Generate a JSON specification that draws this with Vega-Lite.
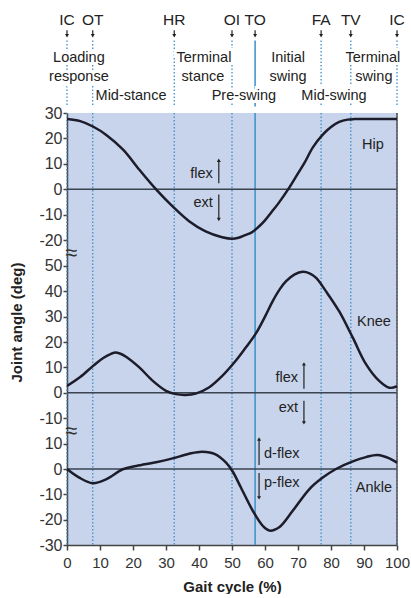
{
  "$schema": "https://vega.github.io/schema/vega-lite/v6.json",
  "padding": {"left": 8, "top": 0, "right": 0, "bottom": 0},
  "background": "white",
  "spacing": 0,
  "bounds": "flush",
  "config": {
    "font": "Liberation Sans, Arial, sans-serif",
    "view": {"stroke": null, "fill": "#c8d4eb"},
    "axis": {
      "labelFont": "Liberation Sans, Arial, sans-serif",
      "labelFontSize": 16,
      "labelColor": "#333333",
      "labelOverlap": false,
      "labelFlush": false,
      "domainColor": "#444444",
      "domainWidth": 1.5,
      "tickColor": "#444444",
      "tickWidth": 1.5,
      "tickSize": 4,
      "labelPadding": 1,
      "grid": false,
      "titleFont": "Liberation Sans, Arial, sans-serif",
      "titleFontSize": 15,
      "titleFontWeight": "bold",
      "titleColor": "#222222"
    },
    "axisX": {"labelFontSize": 15},
    "text": {"font": "Liberation Sans, Arial, sans-serif", "fontSize": 14.5, "color": "#222222"}
  },
  "datasets": {
    "curves": [
      {"joint": "Hip", "pct": 0, "angle": 27.6}, {"joint": "Hip", "pct": 4, "angle": 26.8}, {"joint": "Hip", "pct": 8, "angle": 24.6},
      {"joint": "Hip", "pct": 12, "angle": 21.3}, {"joint": "Hip", "pct": 17, "angle": 15.6}, {"joint": "Hip", "pct": 22, "angle": 7.6},
      {"joint": "Hip", "pct": 27, "angle": 0}, {"joint": "Hip", "pct": 32, "angle": -6.7}, {"joint": "Hip", "pct": 37, "angle": -12.5},
      {"joint": "Hip", "pct": 42, "angle": -16.5}, {"joint": "Hip", "pct": 47, "angle": -18.8}, {"joint": "Hip", "pct": 50, "angle": -19.4},
      {"joint": "Hip", "pct": 52, "angle": -19.0}, {"joint": "Hip", "pct": 54, "angle": -18.0}, {"joint": "Hip", "pct": 56, "angle": -16.9},
      {"joint": "Hip", "pct": 58, "angle": -14.8}, {"joint": "Hip", "pct": 60, "angle": -12.2}, {"joint": "Hip", "pct": 62, "angle": -8.9},
      {"joint": "Hip", "pct": 64, "angle": -5.6}, {"joint": "Hip", "pct": 67, "angle": 0}, {"joint": "Hip", "pct": 70, "angle": 6.3},
      {"joint": "Hip", "pct": 72, "angle": 10.5}, {"joint": "Hip", "pct": 74.5, "angle": 16.5}, {"joint": "Hip", "pct": 77.5, "angle": 21.5},
      {"joint": "Hip", "pct": 80, "angle": 24.5}, {"joint": "Hip", "pct": 82.5, "angle": 26.5}, {"joint": "Hip", "pct": 85, "angle": 27.4},
      {"joint": "Hip", "pct": 87, "angle": 27.6}, {"joint": "Hip", "pct": 91, "angle": 27.6}, {"joint": "Hip", "pct": 95, "angle": 27.6},
      {"joint": "Hip", "pct": 100, "angle": 27.6},
      {"joint": "Knee", "pct": 0, "angle": 2.7}, {"joint": "Knee", "pct": 4, "angle": 6.2}, {"joint": "Knee", "pct": 8, "angle": 10.7},
      {"joint": "Knee", "pct": 11, "angle": 13.7}, {"joint": "Knee", "pct": 14.3, "angle": 15.8}, {"joint": "Knee", "pct": 16, "angle": 15.5},
      {"joint": "Knee", "pct": 18, "angle": 14.1}, {"joint": "Knee", "pct": 22, "angle": 9.9}, {"joint": "Knee", "pct": 26, "angle": 4.7},
      {"joint": "Knee", "pct": 30, "angle": 0.8}, {"joint": "Knee", "pct": 33, "angle": -0.5}, {"joint": "Knee", "pct": 36, "angle": -0.8},
      {"joint": "Knee", "pct": 39, "angle": -0.3}, {"joint": "Knee", "pct": 43, "angle": 2.1}, {"joint": "Knee", "pct": 47, "angle": 6.6},
      {"joint": "Knee", "pct": 51, "angle": 12.4}, {"joint": "Knee", "pct": 54, "angle": 17.5}, {"joint": "Knee", "pct": 57.3, "angle": 23.5},
      {"joint": "Knee", "pct": 60, "angle": 30}, {"joint": "Knee", "pct": 62.3, "angle": 36}, {"joint": "Knee", "pct": 64.5, "angle": 40.8},
      {"joint": "Knee", "pct": 66.4, "angle": 43.9}, {"joint": "Knee", "pct": 69, "angle": 46.6}, {"joint": "Knee", "pct": 71.4, "angle": 47.6},
      {"joint": "Knee", "pct": 73.5, "angle": 47}, {"joint": "Knee", "pct": 75.5, "angle": 45.2}, {"joint": "Knee", "pct": 78.5, "angle": 39.9},
      {"joint": "Knee", "pct": 82.5, "angle": 32}, {"joint": "Knee", "pct": 86.6, "angle": 21.7}, {"joint": "Knee", "pct": 90.6, "angle": 11.3},
      {"joint": "Knee", "pct": 94.6, "angle": 4.7}, {"joint": "Knee", "pct": 97.7, "angle": 2.0}, {"joint": "Knee", "pct": 100, "angle": 2.6},
      {"joint": "Ankle", "pct": 0, "angle": 0}, {"joint": "Ankle", "pct": 3.7, "angle": -3.4}, {"joint": "Ankle", "pct": 7.8, "angle": -5.6},
      {"joint": "Ankle", "pct": 11.8, "angle": -4.1}, {"joint": "Ankle", "pct": 16.9, "angle": -0.1}, {"joint": "Ankle", "pct": 21, "angle": 1.2},
      {"joint": "Ankle", "pct": 27, "angle": 2.7}, {"joint": "Ankle", "pct": 32, "angle": 4.2}, {"joint": "Ankle", "pct": 37, "angle": 6.0},
      {"joint": "Ankle", "pct": 41, "angle": 6.8}, {"joint": "Ankle", "pct": 45, "angle": 5.8}, {"joint": "Ankle", "pct": 48.2, "angle": 2.5},
      {"joint": "Ankle", "pct": 50.2, "angle": -1.0}, {"joint": "Ankle", "pct": 52.7, "angle": -7.3}, {"joint": "Ankle", "pct": 56.3, "angle": -16.5},
      {"joint": "Ankle", "pct": 59.3, "angle": -22.4}, {"joint": "Ankle", "pct": 61.3, "angle": -24.3}, {"joint": "Ankle", "pct": 64.3, "angle": -23},
      {"joint": "Ankle", "pct": 68.4, "angle": -16.5}, {"joint": "Ankle", "pct": 73.4, "angle": -8}, {"joint": "Ankle", "pct": 77.5, "angle": -3.4},
      {"joint": "Ankle", "pct": 81.5, "angle": 0}, {"joint": "Ankle", "pct": 86.6, "angle": 3}, {"joint": "Ankle", "pct": 90.6, "angle": 4.7},
      {"joint": "Ankle", "pct": 94.1, "angle": 5.5}, {"joint": "Ankle", "pct": 97.7, "angle": 4.2}, {"joint": "Ankle", "pct": 100, "angle": 2.5}
    ],
    "events": [
      {"event": "IC", "pct": 0, "kind": "dotted"},
      {"event": "OT", "pct": 7.8, "kind": "dotted"},
      {"event": "HR", "pct": 32.5, "kind": "dotted"},
      {"event": "OI", "pct": 50, "kind": "dotted"},
      {"event": "TO", "pct": 57, "kind": "solid"},
      {"event": "FA", "pct": 77, "kind": "dotted"},
      {"event": "TV", "pct": 86, "kind": "dotted"},
      {"event": "IC", "pct": 100, "kind": "dotted"}
    ],
    "phases": [
      {"text": "Loading", "pct": 3.6, "line": 3.1},
      {"text": "response", "pct": 3.6, "line": 4.1},
      {"text": "Terminal", "pct": 41.5, "line": 3.1},
      {"text": "stance", "pct": 41.2, "line": 4.1},
      {"text": "Initial", "pct": 67, "line": 3.1},
      {"text": "swing", "pct": 67, "line": 4.1},
      {"text": "Terminal", "pct": 92.7, "line": 3.1},
      {"text": "swing", "pct": 93, "line": 4.1},
      {"text": "Mid-stance", "pct": 19.4, "line": 5.1},
      {"text": "Pre-swing", "pct": 53.6, "line": 5.1},
      {"text": "Mid-swing", "pct": 80.9, "line": 5.1}
    ],
    "labels": [
      {"joint": "Hip", "text": "Hip", "pct": 92.7, "angle": 17.6},
      {"joint": "Hip", "text": "flex", "pct": 44.2, "angle": 5.9},
      {"joint": "Hip", "text": "ext", "pct": 44.2, "angle": -5.5},
      {"joint": "Knee", "text": "Knee", "pct": 93, "angle": 27.8},
      {"joint": "Knee", "text": "flex", "pct": 70, "angle": 5.9},
      {"joint": "Knee", "text": "ext", "pct": 70, "angle": -5.9},
      {"joint": "Ankle", "text": "Ankle", "pct": 93, "angle": -7.5},
      {"joint": "Ankle", "text": "d-flex", "pct": 59.7, "angle": 5.9},
      {"joint": "Ankle", "text": "p-flex", "pct": 59.7, "angle": -5.5}
    ],
    "arrows": [
      {"joint": "Hip", "pct": 46, "from": 2.4, "to": 11.4},
      {"joint": "Hip", "pct": 46, "from": -2, "to": -11.8},
      {"joint": "Knee", "pct": 71.8, "from": 1.6, "to": 11.4},
      {"joint": "Knee", "pct": 71.8, "from": -3.1, "to": -11.8},
      {"joint": "Ankle", "pct": 58.2, "from": 1.6, "to": 11.8},
      {"joint": "Ankle", "pct": 58.2, "from": -1.6, "to": -11.4}
    ]
  },
  "vconcat": [
    {
      "width": 330,
      "height": 113,
      "view": {"fill": null, "stroke": null},
      "layer": [
        {
          "data": {"name": "events"},
          "transform": [{"filter": "datum.kind == 'dotted'"}],
          "mark": {"type": "rule", "color": "#3b8fc9", "strokeWidth": 1.3, "strokeDash": [1.5, 2]},
          "encoding": {
            "x": {"field": "pct", "type": "quantitative", "scale": {"domain": [0, 100]}, "axis": null},
            "y": {"datum": 2.15, "type": "quantitative", "scale": {"domain": [0, 5.65], "reverse": true}, "axis": null},
            "y2": {"datum": 5.65}
          }
        },
        {
          "data": {"name": "events"},
          "transform": [{"filter": "datum.kind == 'solid'"}],
          "mark": {"type": "rule", "color": "#3b8fc9", "strokeWidth": 1.5},
          "encoding": {
            "x": {"field": "pct", "type": "quantitative", "axis": null},
            "y": {"datum": 2.15, "type": "quantitative", "axis": null},
            "y2": {"datum": 5.65}
          }
        },
        {
          "data": {"name": "events"},
          "mark": {"type": "rule", "color": "#222222", "strokeWidth": 1.2},
          "encoding": {
            "x": {"field": "pct", "type": "quantitative", "axis": null},
            "y": {"datum": 1.6, "type": "quantitative", "axis": null},
            "y2": {"datum": 1.85}
          }
        },
        {
          "data": {"name": "events"},
          "mark": {"type": "point", "shape": "triangle-down", "filled": true, "color": "#222222", "size": 16, "opacity": 1},
          "encoding": {
            "x": {"field": "pct", "type": "quantitative", "axis": null},
            "y": {"datum": 1.9, "type": "quantitative", "axis": null}
          }
        },
        {
          "data": {"name": "events"},
          "mark": {"type": "text", "fontSize": 15.5, "baseline": "middle", "align": "center"},
          "encoding": {
            "x": {"field": "pct", "type": "quantitative", "axis": null},
            "y": {"datum": 1.05, "type": "quantitative", "axis": null},
            "text": {"field": "event"}
          }
        },
        {
          "data": {"name": "phases"},
          "mark": {"type": "text", "baseline": "middle", "align": "center", "color": "white", "stroke": "white", "strokeWidth": 6},
          "encoding": {
            "x": {"field": "pct", "type": "quantitative", "axis": null},
            "y": {"field": "line", "type": "quantitative", "axis": null},
            "text": {"field": "text"}
          }
        },
        {
          "data": {"name": "phases"},
          "mark": {"type": "text", "baseline": "middle", "align": "center"},
          "encoding": {
            "x": {"field": "pct", "type": "quantitative", "axis": null},
            "y": {"field": "line", "type": "quantitative", "axis": null},
            "text": {"field": "text"}
          }
        }
      ]
    },
    {
      "width": 330,
      "height": 140,
      "layer": [
        {
          "data": {"name": "events"},
          "transform": [{"filter": "datum.kind == 'dotted'"}],
          "mark": {"type": "rule", "color": "#3b8fc9", "strokeWidth": 1.3, "strokeDash": [1.5, 2]},
          "encoding": {"x": {"field": "pct", "type": "quantitative", "scale": {"domain": [0, 100]}, "axis": null}}
        },
        {
          "data": {"name": "events"},
          "transform": [{"filter": "datum.kind == 'solid'"}],
          "mark": {"type": "rule", "color": "#3b8fc9", "strokeWidth": 1.5},
          "encoding": {"x": {"field": "pct", "type": "quantitative", "axis": null}}
        },
        {
          "data": {"values": [{}]},
          "mark": {"type": "rule", "color": "#3a4350", "strokeWidth": 1.5},
          "encoding": {"y": {"datum": 0, "type": "quantitative", "scale": {"domain": [-25, 30], "nice": false}, "axis": {"values": [-20, -10, 0, 10, 20, 30], "title": null, "labelExpr": "'' + datum.value"}}}
        },
        {
          "data": {"values": [{}]},
          "mark": {"type": "rule", "color": "#555555", "strokeWidth": 1.5},
          "encoding": {"x": {"datum": 100, "type": "quantitative", "axis": null}}
        },
        {
          "data": {"name": "curves"},
          "transform": [{"filter": "datum.joint == 'Hip'"}],
          "mark": {"type": "line", "color": "#1c1c2a", "strokeWidth": 2.5, "interpolate": "catmull-rom"},
          "encoding": {
            "x": {"field": "pct", "type": "quantitative", "axis": null},
            "y": {"field": "angle", "type": "quantitative", "axis": {"values": [-20, -10, 0, 10, 20, 30], "title": null, "labelExpr": "'' + datum.value"}}
          }
        },
        {
          "data": {"name": "arrows"},
          "transform": [{"filter": "datum.joint == 'Hip'"}],
          "mark": {"type": "rule", "color": "#222222", "strokeWidth": 1.2},
          "encoding": {
            "x": {"field": "pct", "type": "quantitative", "axis": null},
            "y": {"field": "from", "type": "quantitative", "axis": {"values": [-20, -10, 0, 10, 20, 30], "title": null, "labelExpr": "'' + datum.value"}},
            "y2": {"field": "to"}
          }
        },
        {
          "data": {"name": "arrows"},
          "transform": [{"filter": "datum.joint == 'Hip'"}],
          "mark": {"type": "point", "filled": true, "color": "#222222", "size": 16, "opacity": 1},
          "encoding": {
            "x": {"field": "pct", "type": "quantitative", "axis": null},
            "y": {"field": "to", "type": "quantitative", "axis": {"values": [-20, -10, 0, 10, 20, 30], "title": null, "labelExpr": "'' + datum.value"}},
            "shape": {"condition": {"test": "datum.to > datum.from", "value": "triangle-up"}, "value": "triangle-down"}
          }
        },
        {
          "data": {"name": "labels"},
          "transform": [{"filter": "datum.joint == 'Hip' && (datum.text == 'flex' || datum.text == 'ext')"}],
          "mark": {"type": "text", "align": "right", "baseline": "middle"},
          "encoding": {
            "x": {"field": "pct", "type": "quantitative", "axis": null},
            "y": {"field": "angle", "type": "quantitative", "axis": {"values": [-20, -10, 0, 10, 20, 30], "title": null, "labelExpr": "'' + datum.value"}},
            "text": {"field": "text"}
          }
        },
        {
          "data": {"name": "labels"},
          "transform": [{"filter": "datum.joint == 'Hip' && datum.text == 'Hip'"}],
          "mark": {"type": "text", "align": "center", "baseline": "middle"},
          "encoding": {
            "x": {"field": "pct", "type": "quantitative", "axis": null},
            "y": {"field": "angle", "type": "quantitative", "axis": {"values": [-20, -10, 0, 10, 20, 30], "title": null, "labelExpr": "'' + datum.value"}},
            "text": {"field": "text"}
          }
        }
      ]
    },
    {
      "width": 330,
      "height": 178,
      "layer": [
        {
          "data": {"name": "events"},
          "transform": [{"filter": "datum.kind == 'dotted'"}],
          "mark": {"type": "rule", "color": "#3b8fc9", "strokeWidth": 1.3, "strokeDash": [1.5, 2]},
          "encoding": {"x": {"field": "pct", "type": "quantitative", "scale": {"domain": [0, 100]}, "axis": null}}
        },
        {
          "data": {"name": "events"},
          "transform": [{"filter": "datum.kind == 'solid'"}],
          "mark": {"type": "rule", "color": "#3b8fc9", "strokeWidth": 1.5},
          "encoding": {"x": {"field": "pct", "type": "quantitative", "axis": null}}
        },
        {
          "data": {"values": [{}]},
          "mark": {"type": "rule", "color": "#3a4350", "strokeWidth": 1.5},
          "encoding": {"y": {"datum": 0, "type": "quantitative", "scale": {"domain": [-15, 55], "nice": false}, "axis": {"values": [-10, 0, 10, 20, 30, 40, 50], "title": "Joint angle (deg)", "labelExpr": "'' + datum.value", "titleAngle": -90, "titleAlign": "center", "titleBaseline": "middle", "titleX": -51, "titleY": 69}}}
        },
        {
          "data": {"values": [{}]},
          "mark": {"type": "rule", "color": "#555555", "strokeWidth": 1.5},
          "encoding": {"x": {"datum": 100, "type": "quantitative", "axis": null}}
        },
        {
          "data": {"name": "curves"},
          "transform": [{"filter": "datum.joint == 'Knee'"}],
          "mark": {"type": "line", "color": "#1c1c2a", "strokeWidth": 2.5, "interpolate": "catmull-rom"},
          "encoding": {
            "x": {"field": "pct", "type": "quantitative", "axis": null},
            "y": {"field": "angle", "type": "quantitative", "axis": {"values": [-10, 0, 10, 20, 30, 40, 50], "title": "Joint angle (deg)", "labelExpr": "'' + datum.value", "titleAngle": -90, "titleAlign": "center", "titleBaseline": "middle", "titleX": -51, "titleY": 69}}
          }
        },
        {
          "data": {"name": "arrows"},
          "transform": [{"filter": "datum.joint == 'Knee'"}],
          "mark": {"type": "rule", "color": "#222222", "strokeWidth": 1.2},
          "encoding": {
            "x": {"field": "pct", "type": "quantitative", "axis": null},
            "y": {"field": "from", "type": "quantitative", "axis": {"values": [-10, 0, 10, 20, 30, 40, 50], "title": "Joint angle (deg)", "labelExpr": "'' + datum.value", "titleAngle": -90, "titleAlign": "center", "titleBaseline": "middle", "titleX": -51, "titleY": 69}},
            "y2": {"field": "to"}
          }
        },
        {
          "data": {"name": "arrows"},
          "transform": [{"filter": "datum.joint == 'Knee'"}],
          "mark": {"type": "point", "filled": true, "color": "#222222", "size": 16, "opacity": 1},
          "encoding": {
            "x": {"field": "pct", "type": "quantitative", "axis": null},
            "y": {"field": "to", "type": "quantitative", "axis": {"values": [-10, 0, 10, 20, 30, 40, 50], "title": "Joint angle (deg)", "labelExpr": "'' + datum.value", "titleAngle": -90, "titleAlign": "center", "titleBaseline": "middle", "titleX": -51, "titleY": 69}},
            "shape": {"condition": {"test": "datum.to > datum.from", "value": "triangle-up"}, "value": "triangle-down"}
          }
        },
        {
          "data": {"name": "labels"},
          "transform": [{"filter": "datum.joint == 'Knee' && (datum.text == 'flex' || datum.text == 'ext')"}],
          "mark": {"type": "text", "align": "right", "baseline": "middle"},
          "encoding": {
            "x": {"field": "pct", "type": "quantitative", "axis": null},
            "y": {"field": "angle", "type": "quantitative", "axis": {"values": [-10, 0, 10, 20, 30, 40, 50], "title": "Joint angle (deg)", "labelExpr": "'' + datum.value", "titleAngle": -90, "titleAlign": "center", "titleBaseline": "middle", "titleX": -51, "titleY": 69}},
            "text": {"field": "text"}
          }
        },
        {
          "data": {"name": "labels"},
          "transform": [{"filter": "datum.joint == 'Knee' && datum.text == 'Knee'"}],
          "mark": {"type": "text", "align": "center", "baseline": "middle"},
          "encoding": {
            "x": {"field": "pct", "type": "quantitative", "axis": null},
            "y": {"field": "angle", "type": "quantitative", "axis": {"values": [-10, 0, 10, 20, 30, 40, 50], "title": "Joint angle (deg)", "labelExpr": "'' + datum.value", "titleAngle": -90, "titleAlign": "center", "titleBaseline": "middle", "titleX": -51, "titleY": 69}},
            "text": {"field": "text"}
          }
        },
        {
          "data": {"values": [{}]},
          "mark": {"type": "text", "text": "≈", "fontSize": 22, "align": "center", "baseline": "middle", "dx": 4, "color": "#333333"},
          "encoding": {
            "x": {"datum": 0, "type": "quantitative", "axis": null},
            "y": {"datum": 55, "type": "quantitative", "axis": {"values": [-10, 0, 10, 20, 30, 40, 50], "title": "Joint angle (deg)", "labelExpr": "'' + datum.value", "titleAngle": -90, "titleAlign": "center", "titleBaseline": "middle", "titleX": -51, "titleY": 69}}
          }
        }
      ]
    },
    {
      "width": 330,
      "height": 114,
      "layer": [
        {
          "data": {"name": "events"},
          "transform": [{"filter": "datum.kind == 'dotted'"}],
          "mark": {"type": "rule", "color": "#3b8fc9", "strokeWidth": 1.3, "strokeDash": [1.5, 2]},
          "encoding": {"x": {"field": "pct", "type": "quantitative", "scale": {"domain": [0, 100]}, "axis": {"values": [0, 10, 20, 30, 40, 50, 60, 70, 80, 90, 100], "title": "Gait cycle (%)", "tickSize": 5, "labelPadding": 5, "titlePadding": 9}}}
        },
        {
          "data": {"name": "events"},
          "transform": [{"filter": "datum.kind == 'solid'"}],
          "mark": {"type": "rule", "color": "#3b8fc9", "strokeWidth": 1.5},
          "encoding": {"x": {"field": "pct", "type": "quantitative", "axis": {"values": [0, 10, 20, 30, 40, 50, 60, 70, 80, 90, 100], "title": "Gait cycle (%)", "tickSize": 5, "labelPadding": 5, "titlePadding": 9}}}
        },
        {
          "data": {"values": [{}]},
          "mark": {"type": "rule", "color": "#3a4350", "strokeWidth": 1.5},
          "encoding": {"y": {"datum": 0, "type": "quantitative", "scale": {"domain": [-30, 15], "nice": false}, "axis": {"values": [-30, -20, -10, 0, 10], "title": null, "labelExpr": "'' + datum.value"}}}
        },
        {
          "data": {"values": [{}]},
          "mark": {"type": "rule", "color": "#555555", "strokeWidth": 1.5},
          "encoding": {"x": {"datum": 100, "type": "quantitative", "axis": {"values": [0, 10, 20, 30, 40, 50, 60, 70, 80, 90, 100], "title": "Gait cycle (%)", "tickSize": 5, "labelPadding": 5, "titlePadding": 9}}}
        },
        {
          "data": {"name": "curves"},
          "transform": [{"filter": "datum.joint == 'Ankle'"}],
          "mark": {"type": "line", "color": "#1c1c2a", "strokeWidth": 2.5, "interpolate": "catmull-rom"},
          "encoding": {
            "x": {"field": "pct", "type": "quantitative", "axis": {"values": [0, 10, 20, 30, 40, 50, 60, 70, 80, 90, 100], "title": "Gait cycle (%)", "tickSize": 5, "labelPadding": 5, "titlePadding": 9}},
            "y": {"field": "angle", "type": "quantitative", "axis": {"values": [-30, -20, -10, 0, 10], "title": null, "labelExpr": "'' + datum.value"}}
          }
        },
        {
          "data": {"name": "arrows"},
          "transform": [{"filter": "datum.joint == 'Ankle'"}],
          "mark": {"type": "rule", "color": "#222222", "strokeWidth": 1.2},
          "encoding": {
            "x": {"field": "pct", "type": "quantitative", "axis": {"values": [0, 10, 20, 30, 40, 50, 60, 70, 80, 90, 100], "title": "Gait cycle (%)", "tickSize": 5, "labelPadding": 5, "titlePadding": 9}},
            "y": {"field": "from", "type": "quantitative", "axis": {"values": [-30, -20, -10, 0, 10], "title": null, "labelExpr": "'' + datum.value"}},
            "y2": {"field": "to"}
          }
        },
        {
          "data": {"name": "arrows"},
          "transform": [{"filter": "datum.joint == 'Ankle'"}],
          "mark": {"type": "point", "filled": true, "color": "#222222", "size": 16, "opacity": 1},
          "encoding": {
            "x": {"field": "pct", "type": "quantitative", "axis": {"values": [0, 10, 20, 30, 40, 50, 60, 70, 80, 90, 100], "title": "Gait cycle (%)", "tickSize": 5, "labelPadding": 5, "titlePadding": 9}},
            "y": {"field": "to", "type": "quantitative", "axis": {"values": [-30, -20, -10, 0, 10], "title": null, "labelExpr": "'' + datum.value"}},
            "shape": {"condition": {"test": "datum.to > datum.from", "value": "triangle-up"}, "value": "triangle-down"}
          }
        },
        {
          "data": {"name": "labels"},
          "transform": [{"filter": "datum.joint == 'Ankle' && (datum.text == 'd-flex' || datum.text == 'p-flex')"}],
          "mark": {"type": "text", "align": "left", "baseline": "middle"},
          "encoding": {
            "x": {"field": "pct", "type": "quantitative", "axis": {"values": [0, 10, 20, 30, 40, 50, 60, 70, 80, 90, 100], "title": "Gait cycle (%)", "tickSize": 5, "labelPadding": 5, "titlePadding": 9}},
            "y": {"field": "angle", "type": "quantitative", "axis": {"values": [-30, -20, -10, 0, 10], "title": null, "labelExpr": "'' + datum.value"}},
            "text": {"field": "text"}
          }
        },
        {
          "data": {"name": "labels"},
          "transform": [{"filter": "datum.joint == 'Ankle' && datum.text == 'Ankle'"}],
          "mark": {"type": "text", "align": "center", "baseline": "middle"},
          "encoding": {
            "x": {"field": "pct", "type": "quantitative", "axis": {"values": [0, 10, 20, 30, 40, 50, 60, 70, 80, 90, 100], "title": "Gait cycle (%)", "tickSize": 5, "labelPadding": 5, "titlePadding": 9}},
            "y": {"field": "angle", "type": "quantitative", "axis": {"values": [-30, -20, -10, 0, 10], "title": null, "labelExpr": "'' + datum.value"}},
            "text": {"field": "text"}
          }
        },
        {
          "data": {"values": [{}]},
          "mark": {"type": "text", "text": "≈", "fontSize": 22, "align": "center", "baseline": "middle", "dx": 4, "color": "#333333"},
          "encoding": {
            "x": {"datum": 0, "type": "quantitative", "axis": {"values": [0, 10, 20, 30, 40, 50, 60, 70, 80, 90, 100], "title": "Gait cycle (%)", "tickSize": 5, "labelPadding": 5, "titlePadding": 9}},
            "y": {"datum": 15, "type": "quantitative", "axis": {"values": [-30, -20, -10, 0, 10], "title": null, "labelExpr": "'' + datum.value"}}
          }
        }
      ]
    }
  ]
}
